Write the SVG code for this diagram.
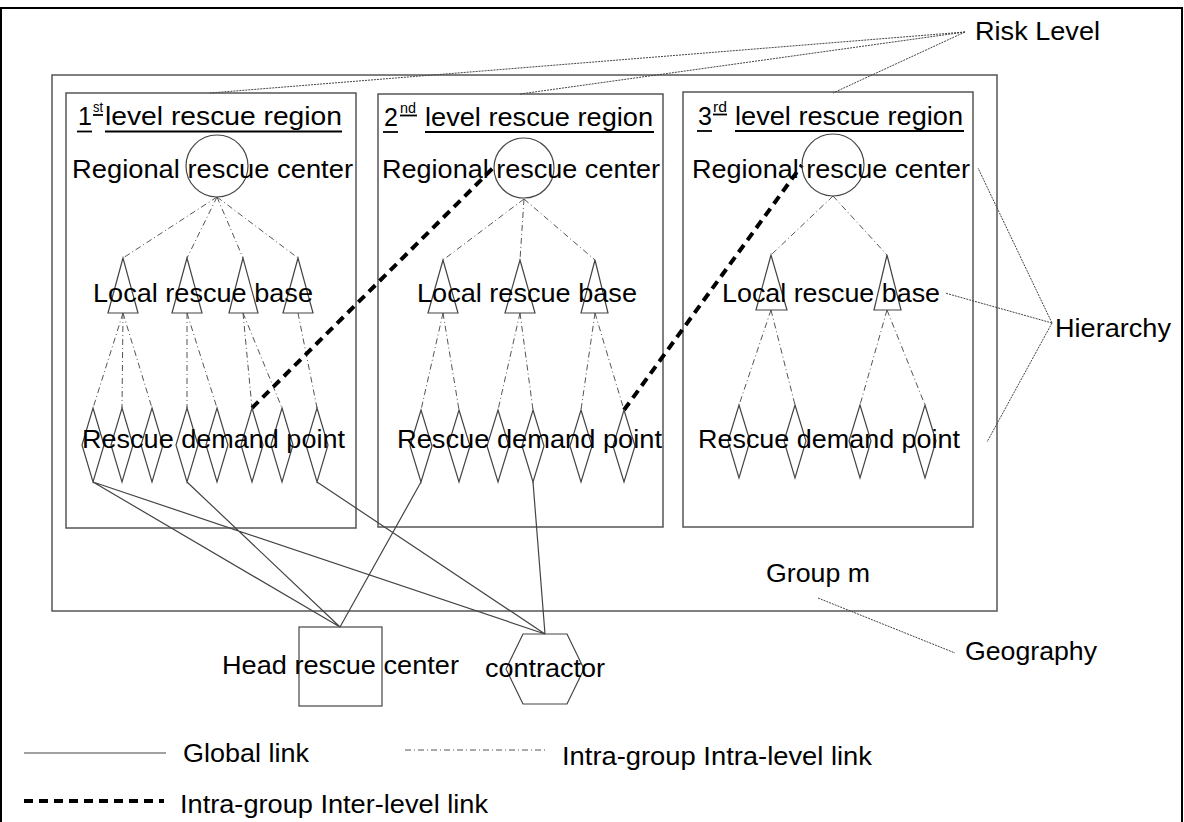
<svg xmlns="http://www.w3.org/2000/svg" width="1184" height="822" viewBox="0 0 1184 822">
<style>
text{font-family:"Liberation Sans",Arial,sans-serif;fill:#000}
.lb{font-size:25px}
.sup{font-size:14px}
.box{fill:#fff;stroke:#555;stroke-width:1.5}
.shape{fill:none;stroke:#444;stroke-width:1.2}
.ul{stroke:#000;stroke-width:1.8}
.dd{stroke:#555;stroke-width:1;stroke-dasharray:6 3 1 3;fill:none}
.thick{stroke:#000;stroke-width:4;stroke-dasharray:9 6;fill:none}
.glob{stroke:#444;stroke-width:1.2;fill:none}
.lead{stroke:#444;stroke-width:1;stroke-dasharray:2 1;fill:none}
</style>
<rect x="0" y="0" width="1184" height="822" fill="#fff"/>
<rect x="1" y="8" width="1181" height="830" fill="none" stroke="#000" stroke-width="2"/>

<g id="group-m">
<rect class="box" x="52" y="75" width="945" height="536"/>
<text class="lb" x="766" y="582" textLength="104" lengthAdjust="spacingAndGlyphs">Group m</text>
</g>

<g id="region1">
<rect class="box" x="66" y="93" width="290" height="435"/>
<text class="lb" x="78" y="125">1</text>
<text class="sup" x="93" y="112" textLength="10" lengthAdjust="spacingAndGlyphs">st</text>
<text class="lb" x="105" y="125" textLength="237" lengthAdjust="spacingAndGlyphs">level rescue region</text>
<line class="ul" x1="77" y1="131.5" x2="92" y2="131.5"/>
<line class="ul" x1="93" y1="115" x2="103" y2="115" stroke-width="1"/>
<line class="ul" x1="105" y1="131.5" x2="342" y2="131.5"/>
</g>
<g id="region2">
<rect class="box" x="378" y="94" width="285" height="433"/>
<text class="lb" x="384" y="126">2</text>
<text class="sup" x="400" y="113" textLength="16" lengthAdjust="spacingAndGlyphs">nd</text>
<text class="lb" x="425" y="126" textLength="228" lengthAdjust="spacingAndGlyphs">level rescue region</text>
<line class="ul" x1="383" y1="132" x2="398" y2="132"/>
<line class="ul" x1="400" y1="115.5" x2="417" y2="115.5" stroke-width="1"/>
<line class="ul" x1="425" y1="132" x2="654" y2="132"/>
</g>
<g id="region3">
<rect class="box" x="683" y="92" width="290" height="435"/>
<text class="lb" x="698" y="125">3</text>
<text class="sup" x="713" y="112" textLength="14" lengthAdjust="spacingAndGlyphs">rd</text>
<text class="lb" x="735" y="125" textLength="228" lengthAdjust="spacingAndGlyphs">level rescue region</text>
<line class="ul" x1="697" y1="131" x2="712" y2="131"/>
<line class="ul" x1="713" y1="114.5" x2="727" y2="114.5" stroke-width="1"/>
<line class="ul" x1="735" y1="131" x2="964" y2="131"/>
</g>

<g id="connectors">
<path class="dd" d="M217 197 L123 258 M217 197 L187 258 M217 197 L243 258 M217 197 L298 258
M123 313 L93 408 M123 313 L122 408 M123 313 L152 408
M187 313 L187 408 M187 313 L217 408
M243 313 L252 408 M243 313 L282 408
M298 313 L317 408
M524 199 L443 260 M524 199 L520 260 M524 199 L595 260
M443 313 L421 410 M443 313 L459 410
M520 313 L498 410 M520 313 L533 410
M595 313 L581 410 M595 313 L624 410
M833 196 L771 255 M833 196 L887 255
M771 310 L739 405 M771 310 L795 405
M887 310 L860 405 M887 310 L925 405"/>
<path class="thick" d="M252 408 L493 168 M624 410 L802 165"/>
<path class="glob" d="M93 482 L340 627 M187 482 L340 627 M421 482 L340 627
M93 482 L545 634 M317 482 L545 634 M533 482 L545 634"/>
<path class="lead" d="M965 32 L210 93 M965 32 L520 94 M965 32 L833 93
M1052 323 L978 168 M1052 323 L945 293 M1052 323 L987 442
M818 598 L955 653"/>
</g>

<g id="rrc1"><circle class="shape" cx="217" cy="166" r="31"/><text class="lb" x="72" y="178" textLength="281" lengthAdjust="spacingAndGlyphs">Regional rescue center</text></g>
<g id="rrc2"><circle class="shape" cx="524" cy="168" r="30"/><text class="lb" x="382" y="178" textLength="278" lengthAdjust="spacingAndGlyphs">Regional rescue center</text></g>
<g id="rrc3"><circle class="shape" cx="833" cy="165" r="31"/><text class="lb" x="692" y="178" textLength="278" lengthAdjust="spacingAndGlyphs">Regional rescue center</text></g>

<g id="lrb1">
<path class="shape" d="M123 258 L108 313 L138 313 Z M187 258 L172 313 L202 313 Z M243 258 L229 313 L258 313 Z M298 258 L283 313 L313 313 Z"/>
<text class="lb" x="93" y="302" textLength="220" lengthAdjust="spacingAndGlyphs">Local rescue base</text>
</g>
<g id="lrb2">
<path class="shape" d="M443 260 L428 313 L458 313 Z M520 260 L505 313 L535 313 Z M595 260 L581 313 L608 313 Z"/>
<text class="lb" x="417" y="302" textLength="220" lengthAdjust="spacingAndGlyphs">Local rescue base</text>
</g>
<g id="lrb3">
<path class="shape" d="M771 255 L756 310 L787 310 Z M887 255 L874 310 L901 310 Z"/>
<text class="lb" x="722" y="302" textLength="218" lengthAdjust="spacingAndGlyphs">Local rescue base</text>
</g>

<g id="rdp1">
<path class="shape" d="M93 408 L104 445 L93 482 L82 445 Z M122 408 L133 445 L122 482 L111 445 Z M152 408 L163 445 L152 482 L141 445 Z M187 408 L198 445 L187 482 L176 445 Z M217 408 L228 445 L217 482 L206 445 Z M252 408 L263 445 L252 482 L241 445 Z M282 408 L293 445 L282 482 L271 445 Z M317 408 L328 445 L317 482 L306 445 Z"/>
<text class="lb" x="82" y="448" textLength="263" lengthAdjust="spacingAndGlyphs">Rescue demand point</text>
</g>
<g id="rdp2">
<path class="shape" d="M421 410 L432 446 L421 482 L410 446 Z M459 410 L470 446 L459 482 L448 446 Z M498 410 L509 446 L498 482 L487 446 Z M533 410 L544 446 L533 482 L522 446 Z M581 410 L592 446 L581 482 L570 446 Z M624 410 L635 446 L624 482 L613 446 Z"/>
<text class="lb" x="397" y="448" textLength="265" lengthAdjust="spacingAndGlyphs">Rescue demand point</text>
</g>
<g id="rdp3">
<path class="shape" d="M739 405 L750 441 L739 478 L728 441 Z M795 405 L806 441 L795 478 L784 441 Z M860 405 L871 441 L860 478 L849 441 Z M925 405 L936 441 L925 478 L914 441 Z"/>
<text class="lb" x="698" y="448" textLength="262" lengthAdjust="spacingAndGlyphs">Rescue demand point</text>
</g>

<g id="head-rescue-center">
<rect class="shape" x="299" y="627" width="83" height="79"/>
<text class="lb" x="222" y="674" textLength="237" lengthAdjust="spacingAndGlyphs">Head rescue center</text>
</g>
<g id="contractor">
<polygon class="shape" points="523,634 567,634 584,669 567,704 523,704 506,669"/>
<text class="lb" x="485" y="677" textLength="120" lengthAdjust="spacingAndGlyphs">contractor</text>
</g>

<g id="risk-level"><text class="lb" x="975" y="40" textLength="125" lengthAdjust="spacingAndGlyphs">Risk Level</text></g>
<g id="hierarchy"><text class="lb" x="1055" y="337" textLength="116" lengthAdjust="spacingAndGlyphs">Hierarchy</text></g>
<g id="geography"><text class="lb" x="965" y="660" textLength="132" lengthAdjust="spacingAndGlyphs">Geography</text></g>

<g id="legend">
<line class="glob" x1="24" y1="753" x2="166" y2="753"/>
<text class="lb" x="183" y="762" textLength="126" lengthAdjust="spacingAndGlyphs">Global link</text>
<line class="dd" x1="405" y1="750" x2="545" y2="750"/>
<text class="lb" x="562" y="765" textLength="310" lengthAdjust="spacingAndGlyphs">Intra-group Intra-level link</text>
<line class="thick" x1="24" y1="801" x2="164" y2="801"/>
<text class="lb" x="180" y="813" textLength="308" lengthAdjust="spacingAndGlyphs">Intra-group Inter-level link</text>
</g>
</svg>
